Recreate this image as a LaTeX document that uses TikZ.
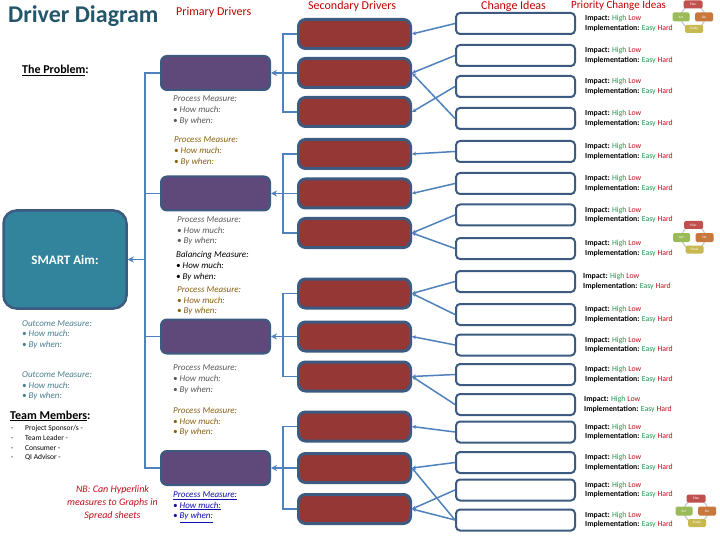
\documentclass[tikz,border=0pt]{standalone}
\usepackage{fontspec}
\setmainfont{Carlito}
\usepackage{xcolor}
\definecolor{heading}{HTML}{24566B}
\definecolor{hred}{HTML}{C00000}
\definecolor{edge}{HTML}{3D5A80}
\definecolor{steel}{HTML}{4F81BD}
\definecolor{aimfill}{HTML}{31849B}
\definecolor{primfill}{HTML}{5F497A}
\definecolor{secfill}{HTML}{953735}
\definecolor{go}{HTML}{1E9A4E}
\definecolor{stop}{HTML}{C0101A}
\definecolor{pgrey}{HTML}{595959}
\definecolor{pbrown}{HTML}{8C6010}
\definecolor{outc}{HTML}{4A7F8F}
\definecolor{hlink}{HTML}{1010B0}
\definecolor{pdplan}{HTML}{C0504D}
\definecolor{pdact}{HTML}{9BBB59}
\definecolor{pddo}{HTML}{C8783C}
\definecolor{pdstudy}{HTML}{C8B850}
\usepackage{tikz}
\usetikzlibrary{arrows.meta,positioning}
\newcommand\prio{\textbf{Impact:} \textcolor{go}{High} \textcolor{stop}{Low}\\
  \textbf{Implementation:} \textcolor{go}{Easy} \textcolor{stop}{Hard}}
\tikzset{
  >=Stealth,
  aimbox/.style={draw=edge,line width=2.5pt,rounded corners=13pt,fill=aimfill,
                 minimum width=123pt,minimum height=98pt,text=white,
                 font=\fontsize{13}{15}\selectfont\bfseries},
  primbox/.style={draw=edge,line width=2pt,rounded corners=6pt,fill=primfill,
                  minimum width=109pt,minimum height=34pt},
  secbox/.style={draw=edge,line width=3pt,rounded corners=7pt,fill=secfill,
                 minimum width=112pt,minimum height=29pt},
  idea/.style={draw=edge,line width=2pt,rounded corners=4pt,fill=white,
               minimum width=119pt,minimum height=21pt},
  wire/.style={draw=steel,line width=1.5pt},
  flow/.style={wire,-{Stealth[length=6pt,width=6pt]}},
  feed/.style={wire,-{Stealth[length=4pt,width=4pt]}},
  prio/.style={font=\fontsize{7.8}{9.5}\selectfont,align=left,inner sep=0pt,anchor=west},
  meas/.style={font=\fontsize{9}{10.7}\selectfont\itshape,align=left,inner sep=0pt,
               anchor=north west},
  head/.style={font=\fontsize{12}{14}\selectfont,text=hred,inner sep=0pt,anchor=base west},
  ring/.style={draw=black!22,line width=1.2pt},
  cyc/.style={rounded corners=1.5pt,inner sep=0pt,text=white,
              font=\fontsize{3.5}{4}\selectfont,minimum height=8pt},
  pdsa/.pic={
    \draw[ring] (0,0) circle (12);
    \node[cyc,fill=pdplan,minimum width=19pt] (-plan) at (0,-12.5) {Plan};
    \node[cyc,fill=pdact,minimum width=17pt,minimum height=9pt] (-act) at (-12,0) {Act};
    \node[cyc,fill=pddo,minimum width=18pt,minimum height=9pt] (-do) at (11,0) {Do};
    \node[cyc,fill=pdstudy,minimum width=18pt] (-study) at (1,12) {Study};
  },
}
\begin{document}
\begin{tikzpicture}[x=1pt,y=-1pt]
  \useasboundingbox[fill=white] (0,0) rectangle (720,540);

  % headings
  \node[inner sep=0pt,anchor=base west,text=heading,font=\fontsize{24}{28}\selectfont\bfseries]
    (title) at (8,23) {Driver Diagram};
  \node[head] (hprim) at (176,16) {Primary Drivers};
  \node[head] (hsec) at (308,10) {Secondary Drivers};
  \node[head] (hidea) at (481,10) {Change Ideas};
  \node[head,font=\fontsize{11}{13}\selectfont] (hprio) at (571,8.5) {Priority Change Ideas};

  % aim and left column
  \node[inner sep=0pt,anchor=base west,font=\fontsize{12}{14}\selectfont\bfseries]
    (problem) at (22,74) {\underline{The Problem}:};
  \node[aimbox] (aim) at (65,259.5) {SMART Aim:};
  \node[meas,text=outc] (o1) at (22,320) {Outcome Measure:\\\textbullet\ How much:\\\textbullet\ By when:};
  \node[meas,text=outc] (o2) at (22,371.5) {Outcome Measure:\\\textbullet\ How much:\\\textbullet\ By when:};
  \node[inner sep=0pt,anchor=base west,font=\fontsize{12}{14}\selectfont\bfseries]
    (team) at (10,419) {\underline{Team Members}:};
  \node[inner sep=0pt,anchor=north west,align=left,font=\fontsize{7.5}{9.6}\selectfont]
    (members) at (11,425.5) {\makebox[14pt][l]{-}Project Sponsor/s -\\\makebox[14pt][l]{-}Team Leader -\\
    \makebox[14pt][l]{-}Consumer -\\\makebox[14pt][l]{-}QI Advisor -};
  \node[inner sep=0pt,anchor=north,align=center,text=stop,font=\fontsize{10}{12.7}\selectfont\itshape]
    (nb) at (112.5,485.5) {NB: Can Hyperlink\\measures to Graphs in\\Spread sheets};

  % primary drivers
  \node[primbox] (p1) at (215.5,73) {};
  \node[primbox] (p2) at (215.5,193.5) {};
  \node[primbox] (p3) at (215.5,336.5) {};
  \node[primbox] (p4) at (215.5,468) {};
  \node[meas,text=pgrey] (m1) at (173,96) {Process Measure:\\\textbullet\ How much:\\\textbullet\ By when:};
  \node[meas,text=pbrown] (m2) at (174,137) {Process Measure:\\\textbullet\ How much:\\\textbullet\ By when:};
  \node[meas,text=pgrey] (m3) at (177,216.5) {Process Measure:\\\textbullet\ How much:\\\textbullet\ By when:};
  \node[meas] (m4) at (176,251.5) {Balancing Measure:\\\textbullet\ How much:\\\textbullet\ By when:};
  \node[meas,text=pbrown] (m5) at (177,286.5) {Process Measure:\\\textbullet\ How much:\\\textbullet\ By when:};
  \node[meas,text=pgrey] (m6) at (173,365) {Process Measure:\\\textbullet\ How much:\\\textbullet\ By when:};
  \node[meas,text=pbrown] (m7) at (173,407.5) {Process Measure:\\\textbullet\ How much:\\\textbullet\ By when:};
  \node[meas,text=hlink] (m8) at (173,491.5) {\underline{Process Measure:}\\\textbullet\ \underline{How much:}\\
    \textbullet\ \underline{By when:}};

  % secondary drivers
  \node[secbox] (s1) at (354.5,34) {};
  \node[secbox] (s2) at (354.5,73) {};
  \node[secbox] (s3) at (354.5,112) {};
  \node[secbox] (s4) at (354.5,154) {};
  \node[secbox] (s5) at (354.5,193.5) {};
  \node[secbox] (s6) at (354.5,233) {};
  \node[secbox] (s7) at (354.5,293.5) {};
  \node[secbox] (s8) at (354.5,336.5) {};
  \node[secbox] (s9) at (354.5,376.5) {};
  \node[secbox] (s10) at (354.5,426.5) {};
  \node[secbox] (s11) at (354.5,468) {};
  \node[secbox] (s12) at (354.5,509) {};

  % change ideas with priority
  \node[idea] (c1) at (515.5,23.5) {};   \node[prio,right=9pt of c1] (pc1) {\prio};
  \node[idea] (c2) at (515.5,55.5) {};   \node[prio,right=9pt of c2] (pc2) {\prio};
  \node[idea] (c3) at (515.5,86.5) {};   \node[prio,right=9pt of c3] (pc3) {\prio};
  \node[idea] (c4) at (515.5,118.5) {};  \node[prio,right=9pt of c4] (pc4) {\prio};
  \node[idea] (c5) at (515.5,151.5) {};  \node[prio,right=9pt of c5] (pc5) {\prio};
  \node[idea] (c6) at (515.5,183.5) {};  \node[prio,right=9pt of c6] (pc6) {\prio};
  \node[idea] (c7) at (515.5,215) {};    \node[prio,right=9pt of c7] (pc7) {\prio};
  \node[idea] (c8) at (515.5,248.5) {};  \node[prio,right=9pt of c8] (pc8) {\prio};
  \node[idea] (c9) at (515.5,281.5) {};  \node[prio,right=7pt of c9] (pc9) {\prio};
  \node[idea] (c10) at (515.5,314.5) {}; \node[prio,right=9pt of c10] (pc10) {\prio};
  \node[idea] (c11) at (515.5,345) {};   \node[prio,right=9pt of c11] (pc11) {\prio};
  \node[idea] (c12) at (515.5,374.5) {}; \node[prio,right=9pt of c12] (pc12) {\prio};
  \node[idea] (c13) at (515.5,404.5) {}; \node[prio,right=8pt of c13] (pc13) {\prio};
  \node[idea] (c14) at (515.5,432) {};   \node[prio,right=9pt of c14] (pc14) {\prio};
  \node[idea] (c15) at (515.5,462.5) {}; \node[prio,right=9pt of c15] (pc15) {\prio};
  \node[idea] (c16) at (515.5,490) {};   \node[prio,right=9pt of c16] (pc16) {\prio};
  \node[idea] (c17) at (515.5,520) {};   \node[prio,right=9pt of c17] (pc17) {\prio};

  \pic at (693,17) {pdsa};
  \pic at (693.5,237.5) {pdsa};
  \pic at (696,511) {pdsa};

  % primary drivers into the aim
  \coordinate (hub) at (145,259.5);
  \draw[wire] (p1.west) -| (hub) |- (p4.west);
  \draw[wire] (p2.west) -| (hub);
  \draw[wire] (p3.west) -| (hub);
  \draw[flow] (hub) -- (aim.east);

  % secondary drivers into primary drivers
  \coordinate (b1) at (283,73);
  \coordinate (b2) at (283,193.5);
  \coordinate (b3) at (283,336.5);
  \coordinate (b4) at (283,468);
  \draw[wire] (s1.west) -| (b1) |- (s3.west);
  \draw[wire] (s2.west) -- (b1);
  \draw[flow] (b1) -- (p1.east);
  \draw[wire] (s4.west) -| (b2) |- (s6.west);
  \draw[wire] (s5.west) -- (b2);
  \draw[flow] (b2) -- (p2.east);
  \draw[wire] (s7.west) -| (b3) |- (s9.west);
  \draw[wire] (s8.west) -- (b3);
  \draw[flow] (b3) -- (p3.east);
  \draw[wire] (s10.west) -| (b4) |- (s12.west);
  \draw[wire] (s11.west) -- (b4);
  \draw[flow] (b4) -- (p4.east);

  % change ideas into secondary drivers
  \draw[feed] (c1.west) -- (s1.east);
  \draw[feed] (c2.west) -- (s2.east);
  \draw[feed] (c4.west) -- (s2.east);
  \draw[feed] (c3.west) -- (s3.east);
  \draw[feed] (c5.west) -- (s4.east);
  \draw[feed] (c6.west) -- (s5.east);
  \draw[feed] (c7.west) -- (s6.east);
  \draw[feed] (c8.west) -- (s6.east);
  \draw[feed] (c9.west) -- (s7.east);
  \draw[feed] (c10.west) -- (s7.east);
  \draw[feed] (c11.west) -- (s8.east);
  \draw[feed] (c12.west) -- (s9.east);
  \draw[feed] (c13.west) -- (s9.east);
  \draw[feed] (c14.west) -- (s10.east);
  \draw[feed] (c15.west) -- (s11.east);
  \draw[feed] (c17.west) -- (s11.east);
  \draw[feed] (c16.west) -- (s12.east);
  \draw[feed] (c17.west) -- (s12.east);
\end{tikzpicture}
\end{document}
